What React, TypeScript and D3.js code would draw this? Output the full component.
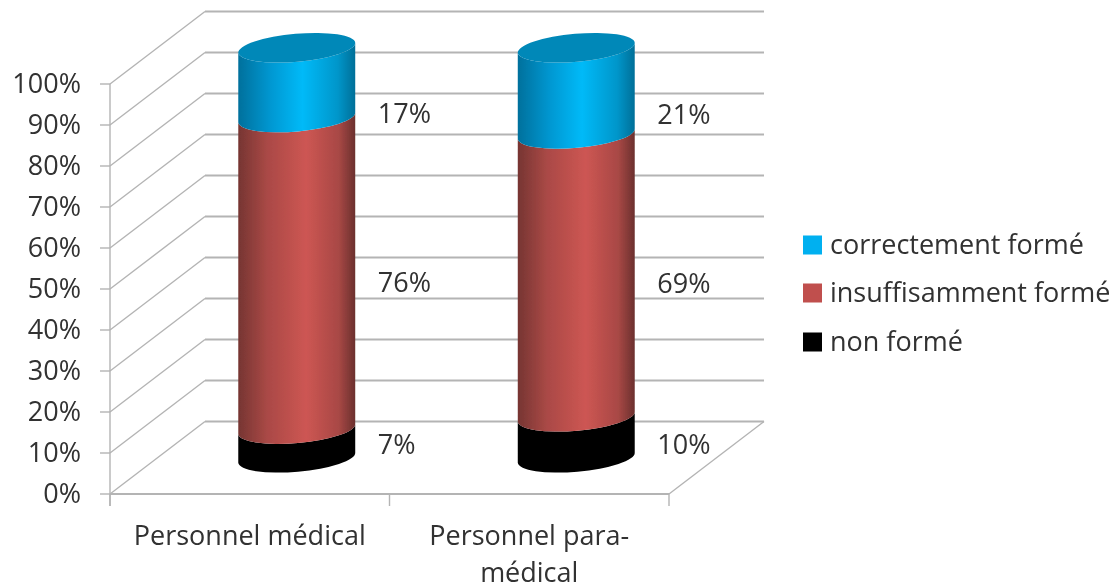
import React from "react";
import * as d3 from "d3";

const categories = ["Personnel médical", "Personnel para-médical"];
const categoryLines = [["Personnel médical"], ["Personnel para-", "médical"]];
const seriesNames = ["non formé", "insuffisamment formé", "correctement formé"];
const nonForme = [7, 10];
const insuffisant = [76, 69];
const correct = [17, 21];
const yTicks = [0, 10, 20, 30, 40, 50, 60, 70, 80, 90, 100];
// Where the data labels sit on the value axis of the front plane
const labelLevels = [
  [[12, "7%"], [51.5, "76%"], [92.8, "17%"]],
  [[12, "10%"], [51.2, "69%"], [92.4, "21%"]],
];

const W = 1119;
const H = 587;
const FONT = "'Open Sans', Lato, sans-serif";
const FS = 27;
const TEXT = "#303030";
const GRID = "#b4b4b4";
const DEPTH_X = 95;
const DEPTH_Y = 72.5;
const BAR_W = 117;
const RY = 14;
const ROT = -5;

const y = d3.scaleLinear().domain([0, 100]).range([494, 84]);
const x = d3.scaleBand<string>().domain(categories).range([110, 669]);

const fills = ["#000000", "url(#redG)", "url(#blueG)"];
const legendColors = ["#000000", "#c0504d", "#00b0f0"];
const legendY = [342, 293, 245];

function segPath(cx: number, v0: number, v1: number) {
  const rx = BAR_W / 2 + 0.2;
  const a = (ROT * Math.PI) / 180;
  const dx = rx * Math.cos(a);
  const dy = rx * Math.sin(a);
  const c0 = y(v0) - DEPTH_Y / 2;
  const c1 = y(v1) - DEPTH_Y / 2;
  return [
    `M${cx - dx},${c0 - dy}`,
    `A${rx},${RY} ${ROT} 0 0 ${cx + dx},${c0 + dy}`,
    `L${cx + dx},${c1 + dy}`,
    `A${rx},${RY} ${ROT} 0 1 ${cx - dx},${c1 - dy}`,
    "Z",
  ].join(" ");
}

function Grad({ id, stops }: { id: string; stops: [number, string][] }) {
  return (
    <linearGradient id={id} x1="0" x2="1" y1="0" y2="0">
      {stops.map(([o, c]) => (
        <stop key={o} offset={o} stopColor={c} />
      ))}
    </linearGradient>
  );
}

export default function App() {
  const series = [nonForme, insuffisant, correct];
  return (
    <svg
      width={W}
      height={H}
      viewBox={`0 0 ${W} ${H}`}
      style={{ position: "absolute", left: 0, top: 0, background: "#fff" }}
      fontFamily={FONT}
    >
      <defs>
        <Grad id="blueG" stops={[[0, "#00709c"], [0.28, "#0098d2"], [0.55, "#00baf8"], [0.85, "#0096ca"], [1, "#006f98"]]} />
        <Grad id="redG" stops={[[0, "#763532"], [0.25, "#aa4946"], [0.58, "#cd5653"], [0.86, "#a84845"], [1, "#6b302e"]]} />
        <filter id="soft" x="-5%" y="-5%" width="110%" height="110%">
          <feGaussianBlur stdDeviation="0.55" />
        </filter>
      </defs>
      <g filter="url(#soft)">
        {/* walls */}
        <g stroke={GRID} fill="none">
          {yTicks.map((t) => (
            <g key={t}>
              <line x1={100} x2={110} y1={y(t)} y2={y(t)} strokeWidth={1.4} />
              <line x1={110} x2={110 + DEPTH_X} y1={y(t)} y2={y(t) - DEPTH_Y} strokeWidth={1.4} />
              <line x1={110 + DEPTH_X} x2={669 + DEPTH_X} y1={y(t) - DEPTH_Y} y2={y(t) - DEPTH_Y} strokeWidth={2} />
            </g>
          ))}
          <line x1={110} x2={110} y1={y(100)} y2={506} strokeWidth={1.4} />
          <line x1={110} x2={669} y1={494} y2={494} strokeWidth={2} />
          <line x1={669} x2={669 + DEPTH_X} y1={494} y2={494 - DEPTH_Y} strokeWidth={1.4} />
          {[110, x(categories[1])!, 669].map((p) => (
            <line key={p} x1={p} x2={p} y1={494} y2={506} strokeWidth={1.4} />
          ))}
        </g>

        {/* cylinders */}
        {categories.map((c, i) => {
          const cx = x(c)! + x.bandwidth() / 2 + DEPTH_X / 2 - 0.5;
          let acc = 0;
          return (
            <g key={c}>
              {series.map((s, k) => {
                const v0 = acc;
                acc += s[i];
                return <path key={k} d={segPath(cx, v0, acc)} fill={fills[k]} />;
              })}
              <ellipse
                cx={cx}
                cy={y(100) - DEPTH_Y / 2}
                rx={BAR_W / 2 + 0.2}
                ry={RY}
                fill="#0288b8"
                transform={`rotate(${ROT} ${cx} ${y(100) - DEPTH_Y / 2})`}
              />
              {labelLevels[i].map(([lv, txt]) => (
                <text
                  key={txt as string}
                  x={cx + 81}
                  y={y(lv as number)}
                  dy={2}
                  fontSize={FS}
                  fill={TEXT}
                  dominantBaseline="middle"
                >
                  {txt}
                </text>
              ))}
            </g>
          );
        })}

        {/* y labels */}
        {yTicks.map((t) => (
          <text key={t} x={81} y={y(t)} dy={2} textAnchor="end" dominantBaseline="middle" fontSize={FS} fill={TEXT}>
            {t}%
          </text>
        ))}

        {/* x labels */}
        {categories.map((c, i) => (
          <text key={c} textAnchor="middle" fontSize={FS} fill={TEXT}>
            {categoryLines[i].map((l, j) => (
              <tspan key={l} x={x(c)! + x.bandwidth() / 2} y={545 + j * 36.5}>
                {l}
              </tspan>
            ))}
          </text>
        ))}

        {/* legend */}
        {seriesNames.map((n, k) => (
          <g key={n}>
            <rect x={803} y={legendY[k] - 9.5} width={19} height={19} fill={legendColors[k]} />
            <text x={830} y={legendY[k]} dy={2} fontSize={FS} fill={TEXT} dominantBaseline="middle">
              {n}
            </text>
          </g>
        ))}
      </g>
    </svg>
  );
}
